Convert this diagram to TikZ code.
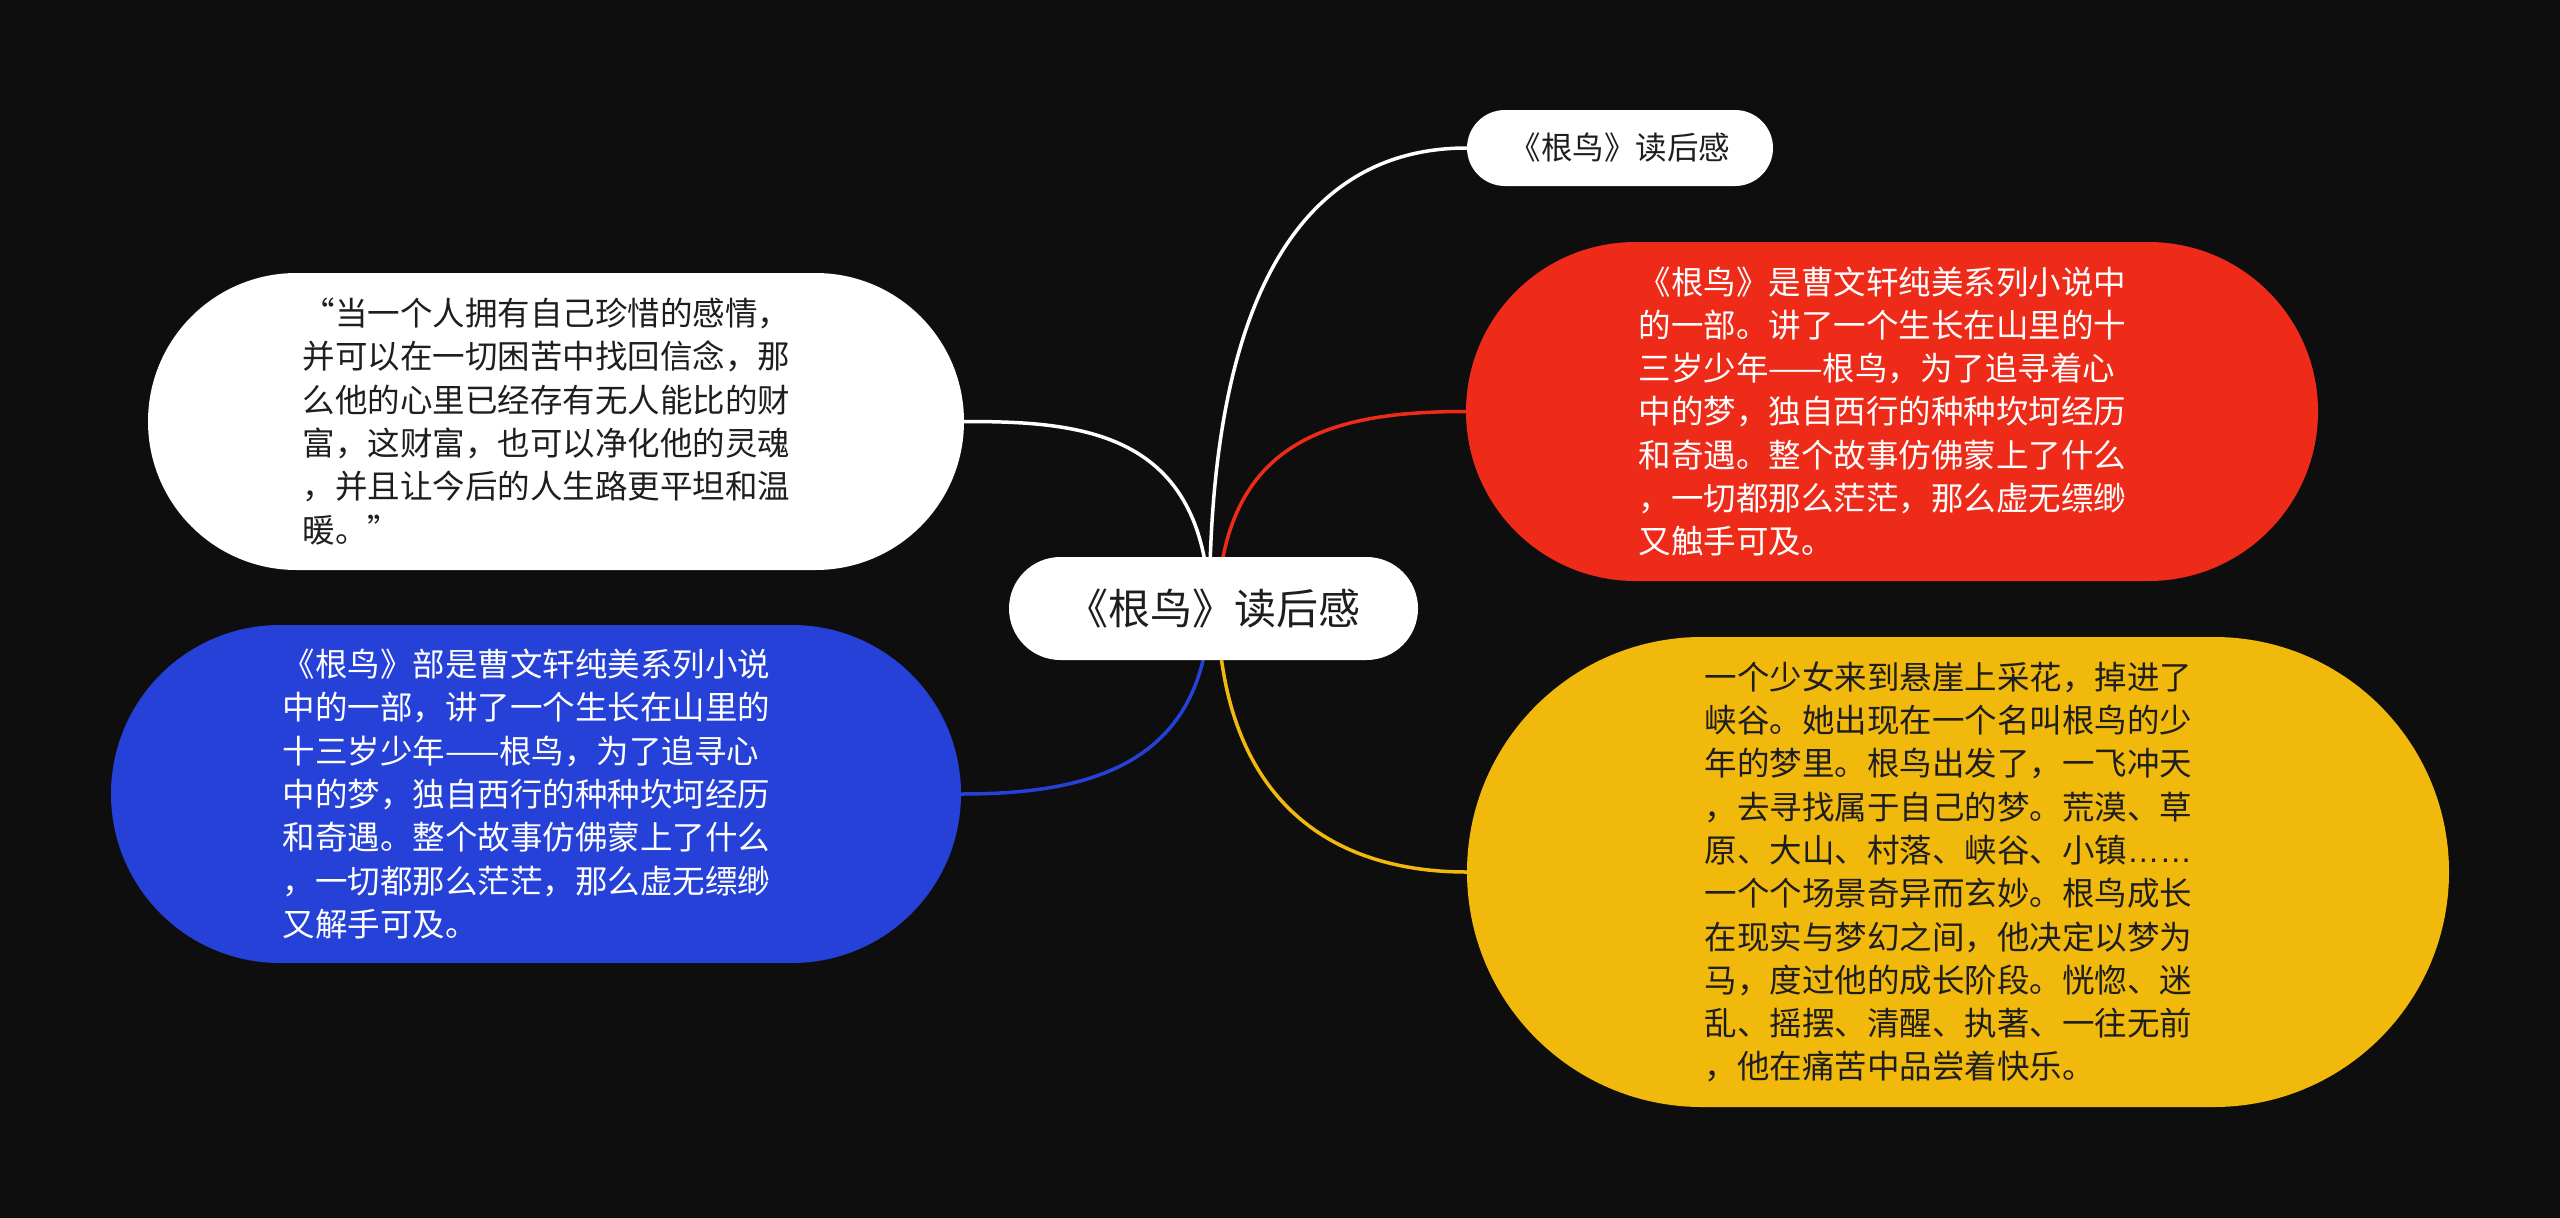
\documentclass[tikz,border=0pt]{standalone}
\usepackage{fontspec}
\newfontfamily\cjk{Noto Sans CJK SC}
\newfontfamily\latinell{Liberation Sans}
\definecolor{bgc}{HTML}{0E0E0E}
\definecolor{redc}{HTML}{EE2A19}
\definecolor{bluec}{HTML}{2541D8}
\definecolor{yelc}{HTML}{F1B90C}
\definecolor{darktxt}{HTML}{1E1E1E}
\pgfdeclarelayer{back}
\pgfdeclarelayer{conn}
\pgfsetlayers{back,conn,main}
\tikzset{
  bodytext/.style={font=\cjk\fontsize{32.5}{43.3}\selectfont, align=left, text width=507pt, inner sep=0pt},
  pill/.style={inner sep=0pt},
  conn/.style={line width=3.5pt, line cap=round},
}
\begin{document}
\begin{tikzpicture}[x=1pt,y=-1pt]
\begin{pgfonlayer}{back}
\fill[bgc] (0,0) rectangle (2560,1218);
\end{pgfonlayer}
\useasboundingbox (0,0) rectangle (2560,1218);

% central node
\node[pill, fill=white, text=darktxt, minimum width=409pt, minimum height=103pt, rounded corners=51.5pt,
      font=\cjk\fontsize{42}{50}\selectfont] (c) at (1213.5,608.5) {《根鸟》读后感};

% top small node
\node[pill, fill=white, text=darktxt, minimum width=306pt, minimum height=76pt, rounded corners=38pt,
      font=\cjk\fontsize{31.5}{38}\selectfont] (t) at (1620,148) {《根鸟》读后感};

% red node
\node[pill, bodytext, fill=redc, text=white, minimum width=852pt, minimum height=339pt, rounded corners=169.5pt] (r) at (1892,411.5) {%
《根鸟》是曹文轩纯美系列小说中\\
的一部。讲了一个生长在山里的十\\
三岁少年——根鸟，为了追寻着心\\
中的梦，独自西行的种种坎坷经历\\
和奇遇。整个故事仿佛蒙上了什么\\
，一切都那么茫茫，那么虚无缥缈\\
又触手可及。};

% yellow node
\node[pill, bodytext, fill=yelc, text=darktxt, minimum width=982pt, minimum height=470pt, rounded corners=235pt] (y) at (1958,872) {%
一个少女来到悬崖上采花，掉进了\\
峡谷。她出现在一个名叫根鸟的少\\
年的梦里。根鸟出发了，一飞冲天\\
，去寻找属于自己的梦。荒漠、草\\
原、大山、村落、峡谷、小镇{\latinell ……}\\
一个个场景奇异而玄妙。根鸟成长\\
在现实与梦幻之间，他决定以梦为\\
马，度过他的成长阶段。恍惚、迷\\
乱、摇摆、清醒、执著、一往无前\\
，他在痛苦中品尝着快乐。};

% white left node
\node[pill, bodytext, fill=white, text=darktxt, minimum width=816pt, minimum height=297pt, rounded corners=148.5pt] (w) at (556,421.5) {%
“当一个人拥有自己珍惜的感情，\\
并可以在一切困苦中找回信念，那\\
么他的心里已经存有无人能比的财\\
富，这财富，也可以净化他的灵魂\\
，并且让今后的人生路更平坦和温\\
暖。”};

% blue node
\node[pill, bodytext, fill=bluec, text=white, minimum width=850pt, minimum height=338pt, rounded corners=169pt] (b) at (536,794) {%
《根鸟》部是曹文轩纯美系列小说\\
中的一部，讲了一个生长在山里的\\
十三岁少年——根鸟，为了追寻心\\
中的梦，独自西行的种种坎坷经历\\
和奇遇。整个故事仿佛蒙上了什么\\
，一切都那么茫茫，那么虚无缥缈\\
又解手可及。};

\begin{pgfonlayer}{conn}
\draw[conn, white] ([xshift=-4pt]c.center) .. controls (1209,300) and (1300,148) .. (t.west);
\draw[conn, white] (w.east) .. controls (1080,421.5) and (1205,430) .. ([xshift=-4pt]c.center);
\draw[conn, redc] ([xshift=4pt]c.center) .. controls (1223,440) and (1330,411.5) .. (r.west);
\draw[conn, bluec] ([xshift=-4pt]c.center) .. controls (1205,770) and (1080,794) .. (b.east);
\draw[conn, yelc] ([xshift=4pt]c.center) .. controls (1222,800) and (1330,872) .. (y.west);
\end{pgfonlayer}
\end{tikzpicture}
\end{document}
